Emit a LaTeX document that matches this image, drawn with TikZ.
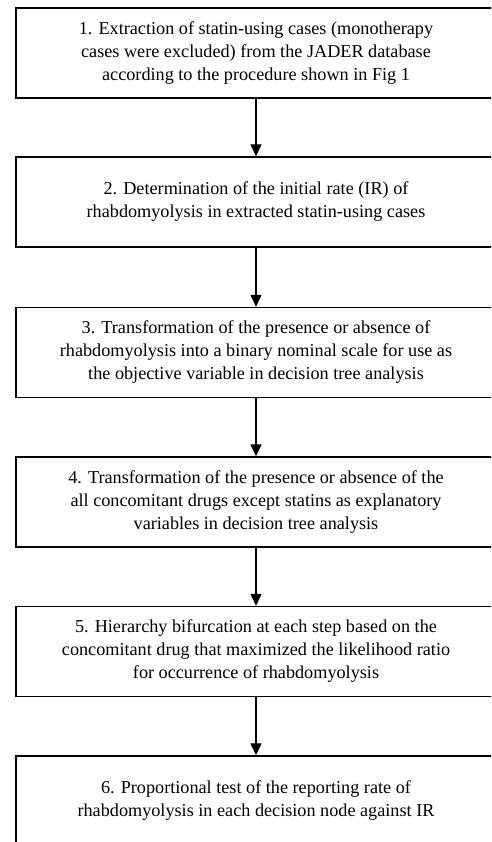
\documentclass[tikz,border=0pt]{standalone}
\usepackage{fontspec}
\setmainfont{Liberation Serif}
\usetikzlibrary{arrows.meta}
\begin{document}
\begin{tikzpicture}[x=1pt,y=1pt,
  proc/.style={draw, line width=1.4pt, minimum width=480pt, minimum height=90pt,
    inner sep=0pt, align=center, font=\fontsize{18.2}{23}\selectfont},
  flow/.style={line width=1.4pt, -{Triangle[length=12pt,width=11pt]}}]
\useasboundingbox (0,0) rectangle (491,842);
\clip (0,0) rectangle (491,842);
\node[proc] (bx1) at (256,789){1. Extraction of statin-using cases (monotherapy\\cases were excluded) from the JADER database\\according to the procedure shown in Fig 1};
\node[proc] (bx2) at (256,640){2. Determination of the initial rate (IR) of\\rhabdomyolysis in extracted statin-using cases};
\node[proc] (bx3) at (256,489.5){3. Transformation of the presence or absence of\\rhabdomyolysis into a binary nominal scale for use as\\the objective variable in decision tree analysis};
\node[proc] (bx4) at (256,340){4. Transformation of the presence or absence of the\\all concomitant drugs except statins as explanatory\\variables in decision tree analysis};
\node[proc] (bx5) at (256,190.5){5. Hierarchy bifurcation at each step based on the\\concomitant drug that maximized the likelihood ratio\\for occurrence of rhabdomyolysis};
\node[proc] (bx6) at (256,41){6. Proportional test of the reporting rate of\\rhabdomyolysis in each decision node against IR};
\draw[flow](bx1) -- (bx2);
\draw[flow](bx2) -- (bx3);
\draw[flow](bx3) -- (bx4);
\draw[flow](bx4) -- (bx5);
\draw[flow](bx5) -- (bx6);
\end{tikzpicture}
\end{document}
